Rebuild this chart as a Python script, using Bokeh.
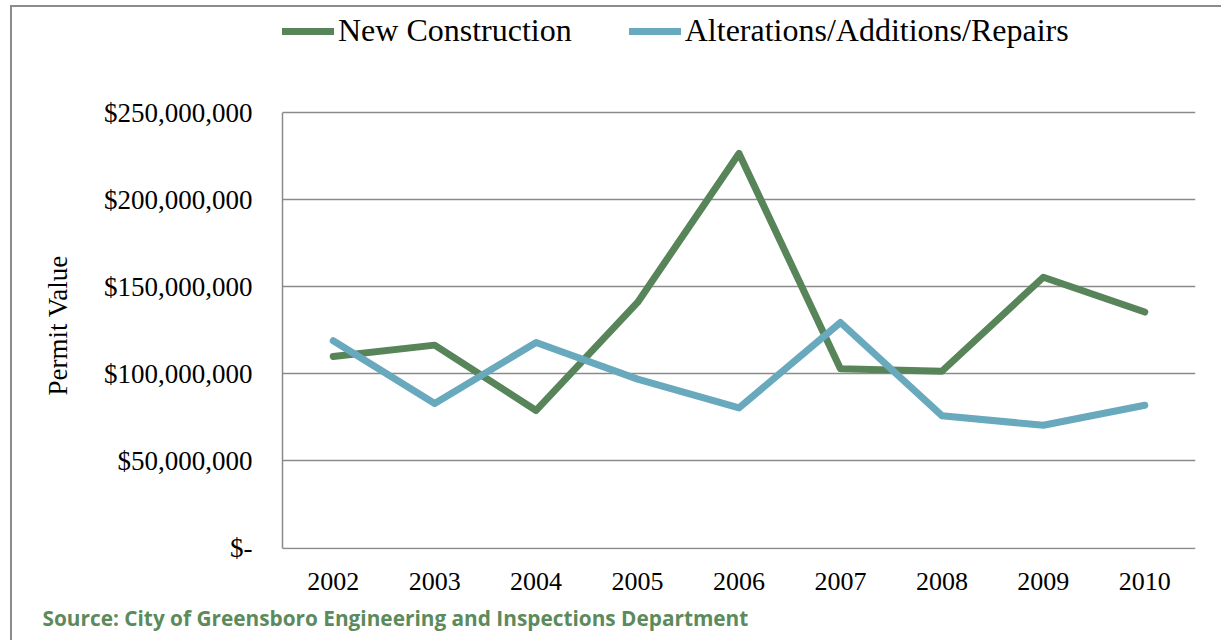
from bokeh.plotting import figure
from bokeh.models import (ColumnDataSource, Legend, LegendItem, Title, FixedTicker, Range1d)
from bokeh.embed import file_html
from bokeh.resources import INLINE

years = [2002, 2003, 2004, 2005, 2006, 2007, 2008, 2009, 2010]
new_construction = [110e6, 116.5e6, 79e6, 141e6, 226.5e6, 103e6, 101.5e6, 155.5e6, 135.5e6]
alterations = [119e6, 83e6, 118e6, 97e6, 80.5e6, 129.5e6, 76e6, 70.5e6, 82e6]
y_ticks = [0, 50e6, 100e6, 150e6, 200e6, 250e6]
y_labels = ["$-", "$50,000,000", "$100,000,000", "$150,000,000", "$200,000,000", "$250,000,000"]
series_names = ["New Construction", "Alterations/Additions/Repairs"]
y_title = "Permit Value"
source_text = "Source: City of Greensboro Engineering and Inspections Department"

GREEN = "#58845a"
BLUE = "#68a9bd"
GRID = "#8a8a8a"
SERIF = "Liberation Serif"

src = ColumnDataSource(dict(year=years, nc=new_construction, alt=alterations))

# frame extends to the top of the figure so the legend can sit inside it;
# the value axis itself is bounded to 0..250M
p = figure(width=1211, height=635, output_backend="svg", toolbar_location=None,
           x_range=Range1d(years[0] - 0.5, years[-1] + 0.5),
           y_range=Range1d(-0.8e6, 310.3e6),
           min_border_left=270, min_border_right=28, min_border_top=0, min_border_bottom=93)
p.outline_line_color = None
p.background_fill_color = "white"
p.border_fill_color = "white"
p.styles = {"margin-left": "10px", "margin-top": "5px",
            "border-left": "2px solid #8c8c8c", "border-top": "2px solid #8c8c8c"}

r1 = p.line("year", "nc", source=src, line_color=GREEN, line_width=7,
            line_join="round", line_cap="round")
r2 = p.line("year", "alt", source=src, line_color=BLUE, line_width=7,
            line_join="round", line_cap="round")

# axes
p.xaxis.ticker = FixedTicker(ticks=years)
p.xaxis.axis_line_color = None
p.xaxis.major_tick_line_color = None
p.xaxis.minor_tick_line_color = None
p.xaxis.major_tick_out = 0
p.xaxis.major_tick_in = 0
p.xaxis.major_label_standoff = 23
p.xaxis.major_label_text_font = SERIF
p.xaxis.major_label_text_font_size = "26px"
p.xaxis.major_label_text_color = "black"

p.yaxis.ticker = FixedTicker(ticks=y_ticks)
p.yaxis.bounds = (y_ticks[0], y_ticks[-1])
p.yaxis.major_label_overrides = {t: l for t, l in zip(y_ticks, y_labels)}
p.yaxis.axis_line_color = GRID
p.yaxis.axis_line_width = 1.5
p.yaxis.major_tick_line_color = None
p.yaxis.minor_tick_line_color = None
p.yaxis.major_tick_out = 0
p.yaxis.major_tick_in = 0
p.yaxis.major_label_standoff = 30
p.yaxis.major_label_text_font = SERIF
p.yaxis.major_label_text_font_size = "27px"
p.yaxis.major_label_text_color = "black"

p.add_layout(Title(text=y_title, align="left", offset=154, standoff=55,
                   text_font=SERIF, text_font_style="normal", text_font_size="27px",
                   text_color="black"), "left")

p.xgrid.grid_line_color = None
p.ygrid.ticker = FixedTicker(ticks=y_ticks)
p.ygrid.grid_line_color = GRID
p.ygrid.grid_line_width = 1.5

legend = Legend(items=[LegendItem(label=series_names[0], renderers=[r1]),
                       LegendItem(label=series_names[1], renderers=[r2])],
                orientation="horizontal", location=(0, 500),
                label_text_font=SERIF, label_text_font_size="32px",
                label_text_color="black",
                glyph_width=52, glyph_height=30, label_standoff=4, spacing=57,
                padding=0, margin=0, border_line_color=None,
                background_fill_alpha=0)
p.add_layout(legend, "center")

p.add_layout(Title(text=source_text, align="left", offset=-240, standoff=18,
                   text_font="Open Sans", text_font_style="bold", text_font_size="20.8px",
                   text_color="#5b8a5b"), "below")

open("out.html", "w").write(file_html(p, INLINE))
